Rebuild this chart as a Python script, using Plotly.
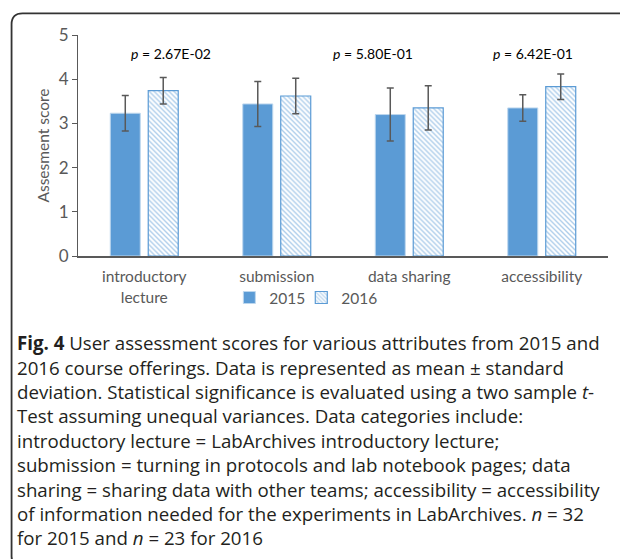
import plotly.graph_objects as go

categories = ["introductory<br>lecture", "submission", "data sharing", "accessibility"]
mean_2015 = [3.23, 3.44, 3.20, 3.35]
sd_2015 = [0.40, 0.51, 0.60, 0.30]
mean_2016 = [3.74, 3.62, 3.35, 3.83]
sd_2016 = [0.30, 0.40, 0.50, 0.29]
p_labels = ["2.67E-02", "5.80E-01", "6.42E-01"]
p_pos = [0.2, 1.73, 2.935]
y_ticks = [0, 1, 2, 3, 4, 5]

caption_lines = [
    "<b>Fig. 4</b> User assessment scores for various attributes from 2015 and",
    "2016 course offerings. Data is represented as mean ± standard",
    "deviation. Statistical significance is evaluated using a two sample <i>t</i>-",
    "Test assuming unequal variances. Data categories include:",
    "introductory lecture = LabArchives introductory lecture;",
    "submission = turning in protocols and lab notebook pages; data",
    "sharing = sharing data with other teams; accessibility = accessibility",
    "of information needed for the experiments in LabArchives. <i>n</i> = 32",
    "for 2015 and <i>n</i> = 23 for 2016",
]

# page body has an 8px margin: figure coordinates = screen coordinates - 8
OFF = 8
W, H = 628, 559
# desired screen positions of the plot area
SX0, SX1, SY0, SY1 = 77.5, 608, 34.7, 256
L = SX0 - OFF
R = W - (SX1 - OFF)
T = SY0 - OFF
B = H - (SY1 - OFF)
PW, PH = W - L - R, H - T - B


def px(x):
    return (x - SX0) / PW


def py(y):
    return (SY1 - y) / PH


BLUE = "#5B9BD5"
GRAY = "#595959"
CHART_FONT = "Lato"

fig = go.Figure()
fig.add_trace(go.Bar(
    x=categories, y=mean_2015, name="2015", legend="legend",
    marker=dict(color=BLUE, line=dict(color="#BDD7EE", width=1)),
    error_y=dict(type="data", array=sd_2015, color=GRAY, thickness=1.5, width=3.5),
))
fig.add_trace(go.Bar(
    x=categories, y=mean_2016, name="2016", legend="legend2",
    marker=dict(color="white", line=dict(color=BLUE, width=1.2),
                pattern=dict(shape="\\", fgcolor=BLUE, bgcolor="white", size=3.5, solidity=0.4)),
    error_y=dict(type="data", array=sd_2016, color=GRAY, thickness=1.5, width=3.5),
))

annotations = []
for pl, pp in zip(p_labels, p_pos):
    annotations.append(dict(
        x=pp, y=4.58, xref="x", yref="y", text="<i>p</i> = " + pl, showarrow=False,
        font=dict(family=CHART_FONT, size=14, color="black"), xanchor="center", yanchor="middle",
    ))

line_y0, line_dy = 343, 24.4
for i, ln in enumerate(caption_lines):
    annotations.append(dict(
        x=px(14), y=py(line_y0 + i * line_dy), xref="paper", yref="paper", text=ln,
        showarrow=False, xanchor="left", yanchor="middle",
        font=dict(family="Open Sans", size=18.7, color="#231F20"),
    ))

# rounded border box (clipped at right/bottom edges)
x0, y0, x1, y1, r = 11, 13, 637, 568, 11
path = (f"M {px(x0)},{py(y0 + r)} "
        f"Q {px(x0)},{py(y0)} {px(x0 + r)},{py(y0)} "
        f"L {px(x1 - r)},{py(y0)} "
        f"Q {px(x1)},{py(y0)} {px(x1)},{py(y0 + r)} "
        f"L {px(x1)},{py(y1 - r)} "
        f"Q {px(x1)},{py(y1)} {px(x1 - r)},{py(y1)} "
        f"L {px(x0 + r)},{py(y1)} "
        f"Q {px(x0)},{py(y1)} {px(x0)},{py(y1 - r)} Z")

legend_common = dict(orientation="h", yanchor="middle", xanchor="left", itemwidth=30,
                     font=dict(family=CHART_FONT, size=15.5, color=GRAY),
                     bgcolor="rgba(0,0,0,0)")

fig.update_layout(
    width=W, height=H,
    margin=dict(l=L, r=R, t=T, b=B, autoexpand=False),
    paper_bgcolor="white", plot_bgcolor="white",
    barmode="group", bargap=0.427, bargroupgap=0.21,
    font=dict(family=CHART_FONT, size=15, color=GRAY),
    showlegend=True,
    legend=dict(x=px(229), y=py(298), **legend_common),
    legend2=dict(x=px(301), y=py(298), **legend_common),
    xaxis=dict(showline=True, linecolor=GRAY, linewidth=1.5, ticks="", showgrid=False,
               tickfont=dict(family=CHART_FONT, size=15.5, color=GRAY), fixedrange=True,
               ticklabelstandoff=6),
    yaxis=dict(range=[0, 5], tickvals=y_ticks, showline=True, linecolor=GRAY, linewidth=1.2,
               ticks="outside", ticklen=5, tickcolor=GRAY, showgrid=False, zeroline=False,
               tickfont=dict(family=CHART_FONT, size=17, color=GRAY),
               title=dict(text="Assesment score", font=dict(family=CHART_FONT, size=15.5, color=GRAY), standoff=5)),
    annotations=annotations,
    shapes=[dict(type="path", path=path, xref="paper", yref="paper",
                 line=dict(color="#333333", width=1.8), fillcolor="rgba(0,0,0,0)", layer="above")],
)

fig.write_html("out.html")
